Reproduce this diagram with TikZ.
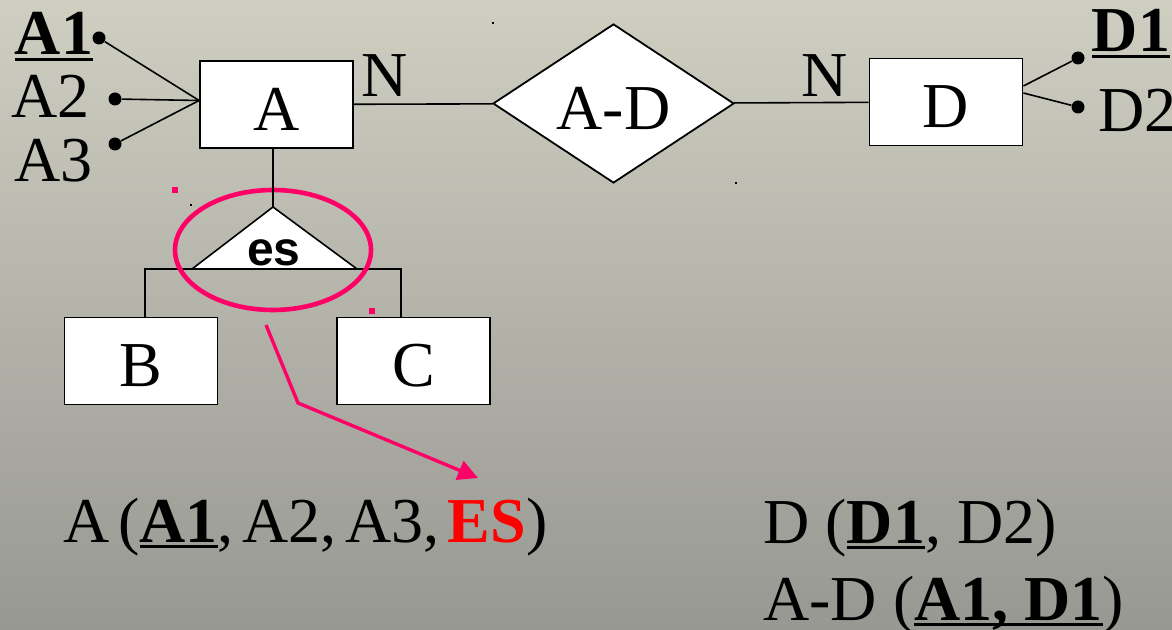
\documentclass[tikz,border=0pt]{standalone}
\usepackage{fontspec}
\setmainfont{Liberation Serif}
\newfontfamily\arialfont{Liberation Sans}
\usetikzlibrary{shapes.geometric,arrows.meta}
\definecolor{slidetop}{RGB}{206,206,193}
\definecolor{slidebottom}{RGB}{152,152,147}
\definecolor{markpink}{RGB}{255,0,102}
\newcommand{\keyattr}[1]{\setbox0\hbox{\textbf{#1}}\rlap{\rule[-3.2pt]{\wd0}{1.5pt}}\box0}

\begin{document}
\begin{tikzpicture}[x=0.5pt,y=-0.5pt]

%
% Styles
%
\tikzstyle{big} = [font=\fontsize{32}{38}\selectfont,inner sep=0pt]
\tikzstyle{entity} = [big,rectangle,draw,fill=white,line width=0.9pt,minimum width=76.5pt,minimum height=43.5pt,text height=25.6pt,text depth=0pt]
\tikzstyle{relation} = [big,diamond,aspect=1.5,draw,fill=white,line width=0.9pt,minimum width=120.5pt,minimum height=79.5pt,text height=25.6pt,text depth=0pt]
\tikzstyle{attr} = [circle,fill,inner sep=0pt,minimum size=6.5pt]
\tikzstyle{link} = [draw,line width=0.8pt]
\tikzstyle{pinkline} = [draw=markpink,line width=1.7pt]

\useasboundingbox (0,0) rectangle (1172,630);
\shade[top color=slidetop,bottom color=slidebottom] (0,0) rectangle (1172,630);

\node[entity] (a) at (276.5,104.5) {A};
\node[relation] (ad) at (613.5,103.5) {A-D};
\node[entity] (d) at (946,102) {D};
\node[entity] (b) at (141,361) {B};
\node[entity] (c) at (413.5,361) {C};

\node[big,anchor=base] (na) at (385,97) {N};
\node[big,anchor=base] (nd) at (825,97) {N};

\draw[link] (a) -- (ad);
\draw[link] (ad) -- (d);

% attributes
\node[attr] (a1) at (99,38) {};
\node[attr] (a2) at (115,99) {};
\node[attr] (a3) at (115,144) {};
\node[attr] (d1) at (1078,58) {};
\node[attr] (d2) at (1078,107) {};
\node[big,anchor=base] (a1t) at (54,55) {\keyattr{A1}};
\node[big,anchor=base] (a2t) at (50.5,118) {A2};
\node[big,anchor=base] (a3t) at (53.5,182) {A3};
\node[big,anchor=base] (d1t) at (1131,52) {\keyattr{D1}};
\node[big,anchor=base west] (d2t) at (1098,132) {D2};

\coordinate (ahub) at ([yshift=2pt]a.west);
\draw[link] (a1) -- (ahub);
\draw[link] (a2) -- (ahub);
\draw[link] (a3) -- (ahub);
\draw[link] ([yshift=8pt]d.east) -- (d1);
\draw[link] ([yshift=4.5pt]d.east) -- (d2);

% specialization
\coordinate (esapex) at (273,207);
\coordinate (esleft) at (192,269);
\coordinate (esright) at (357,269);
\coordinate (bjoin) at (145,269);
\coordinate (cjoin) at (401,269);
\draw[link] (bjoin |- b.north) -- (bjoin) -- (cjoin) -- (cjoin |- c.north);
\filldraw[fill=white,line width=0.8pt] (esleft) -- (esapex) -- (esright) -- cycle;
\node[font=\arialfont\bfseries\fontsize{24}{28}\selectfont,anchor=base,inner sep=0pt] (es) at (274,266) {es};

\node[ellipse,pinkline,line width=2.3pt,minimum width=98pt,minimum height=60pt] (esring) at (273,250) {};
\draw[link] (a.south -| esapex) -- (esapex);

\coordinate (arrstart) at (266,325);
\coordinate (arrbend) at (298,403);
\coordinate (arrend) at (478,478);
\draw[pinkline,-{Triangle[length=10pt,width=10pt]}] (arrstart) -- (arrbend) -- (arrend);

% stray marks
\fill[markpink] (172,187) rectangle (178,193);
\fill[markpink] (369,308) rectangle (375,314);
\fill (190,204) rectangle (192,206);
\fill (492,22) rectangle (494,24);
\fill (735,182) rectangle (737,184);

% relations
\node[big,anchor=base west] (rela) at (63,542) {\spaceskip=4.3pt A (\keyattr{A1}, A2, A3, \textcolor{red}{\textbf{ES}})};
\node[big,anchor=base west] (reld) at (763,543) {D (\keyattr{D1}, D2)};
\node[big,anchor=base west] (relad) at (763,620) {A-D (\keyattr{A1, D1})};

\end{tikzpicture}
\end{document}
